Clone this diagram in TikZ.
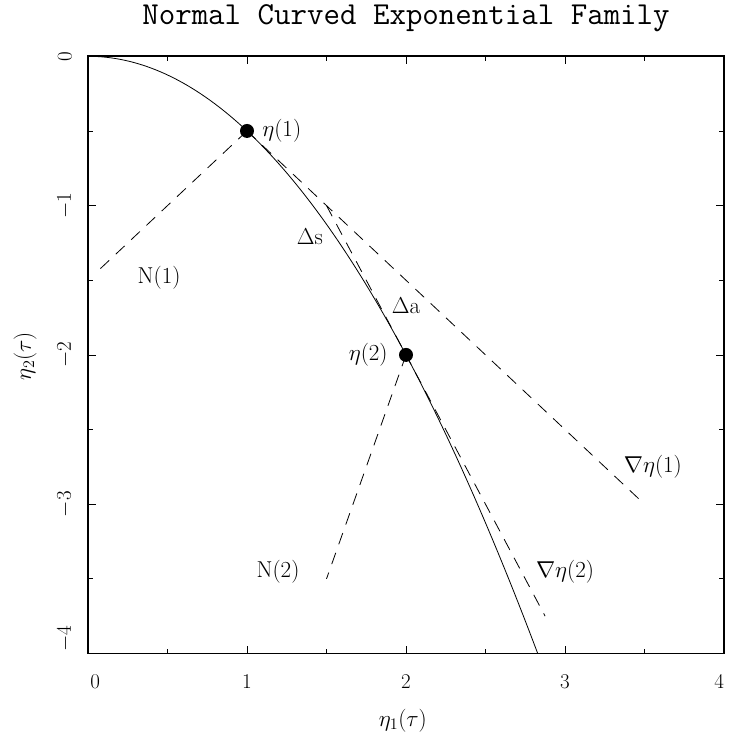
\RequirePackage{fix-cm}
\documentclass[tikz,border=0pt]{standalone}
\usepackage{tikz}
\usetikzlibrary{positioning}

\begin{document}
\begin{tikzpicture}[x=159pt, y=149.3pt,
    frame/.style={line width=1.6pt},
    tick/.style={line width=0.8pt},
    curve/.style={line width=0.8pt},
    dsh/.style={line width=0.8pt, dash pattern=on 12pt off 9pt},
    dot/.style={circle, fill=black, minimum size=14pt, inner sep=0pt},
    lbl/.style={font=\fontsize{23}{27}\selectfont, inner sep=2pt},
    tlbl/.style={font=\fontsize{21}{25}\selectfont, inner sep=1pt},
    ttl/.style={font=\ttfamily\fontsize{32}{36}\selectfont, inner sep=0pt}]
  \useasboundingbox (-0.5535,0.3771) rectangle (4.0252,-4.5794);
  % frame and ticks
  \draw[frame] (0,0) rectangle (4,-4);
  \foreach \t in {1,2,3} {
    \draw[tick] (\t,-4) -- ++(0pt,8pt);
    \draw[tick] (\t,0) -- ++(0pt,-8pt);
    \draw[tick] (0,-\t) -- ++(8pt,0pt);
    \draw[tick] (4,-\t) -- ++(-8pt,0pt);
  }
  \foreach \t in {0.5,1.5,2.5,3.5} {
    \draw[tick] (\t,-4) -- ++(0pt,5pt);
    \draw[tick] (\t,0) -- ++(0pt,-5pt);
    \draw[tick] (0,-\t) -- ++(5pt,0pt);
    \draw[tick] (4,-\t) -- ++(-5pt,0pt);
  }
  \foreach \t/\x in {0/0.045, 1/1, 2/2, 3/3, 4/3.97}
    \node[tlbl] (xt\t) at (\x,-4.19) {\t};
  \foreach \t/\y in {0/-0.005, 1/-1, 2/-2, 3/-3, 4/-3.9}
    \node[tlbl, rotate=90] (yt\t) at (-0.145,\y) {\ifnum\t=0 0\else$-\t$\fi};
  \node[lbl] (xlab) at (1.98,-4.45) {$\eta_1(\tau)$};
  \node[lbl, rotate=90] (ylab) at (-0.396,-2.007) {$\eta_2(\tau)$};
  \node[ttl] (title) at (2,0.255) {Normal Curved Exponential Family};
  % family curve
  \draw[curve] plot[domain=0:2.8284, samples=100] (\x, {-\x*\x/2});
  % points, tangents and normals
  \node[dot] (p1) at (1,-0.5) {};
  \node[dot] (p2) at (2,-2) {};
  \coordinate (n1) at (0.05,-1.45);
  \coordinate (n2) at (1.5,-3.5);
  \coordinate (g1) at (3.5,-3);
  \coordinate (g2a) at (1.5,-1);
  \coordinate (g2b) at (2.875,-3.75);
  \draw[dsh] (p1.center) -- (n1);
  \draw[dsh] (p1.center) -- (g1);
  \draw[dsh] (g2a) -- (g2b);
  \draw[dsh] (p2.center) -- (n2);
  \node[lbl, right=6pt of p1] (e1) {$\eta(1)$};
  \node[lbl, left=9pt of p2] (e2) {$\eta(2)$};
  \node[lbl] (ds) at (1.396,-1.21) {$\Delta$s};
  \node[lbl] (da) at (2.0,-1.672) {$\Delta$a};
  \node[lbl] (lN1) at (0.447,-1.485) {N(1)};
  \node[lbl] (lN2) at (1.195,-3.454) {N(2)};
  \node[lbl] (lg1) at (3.553,-2.75) {$\nabla\eta(1)$};
  \node[lbl] (lg2) at (3.0,-3.454) {$\nabla\eta(2)$};
\end{tikzpicture}
\end{document}
